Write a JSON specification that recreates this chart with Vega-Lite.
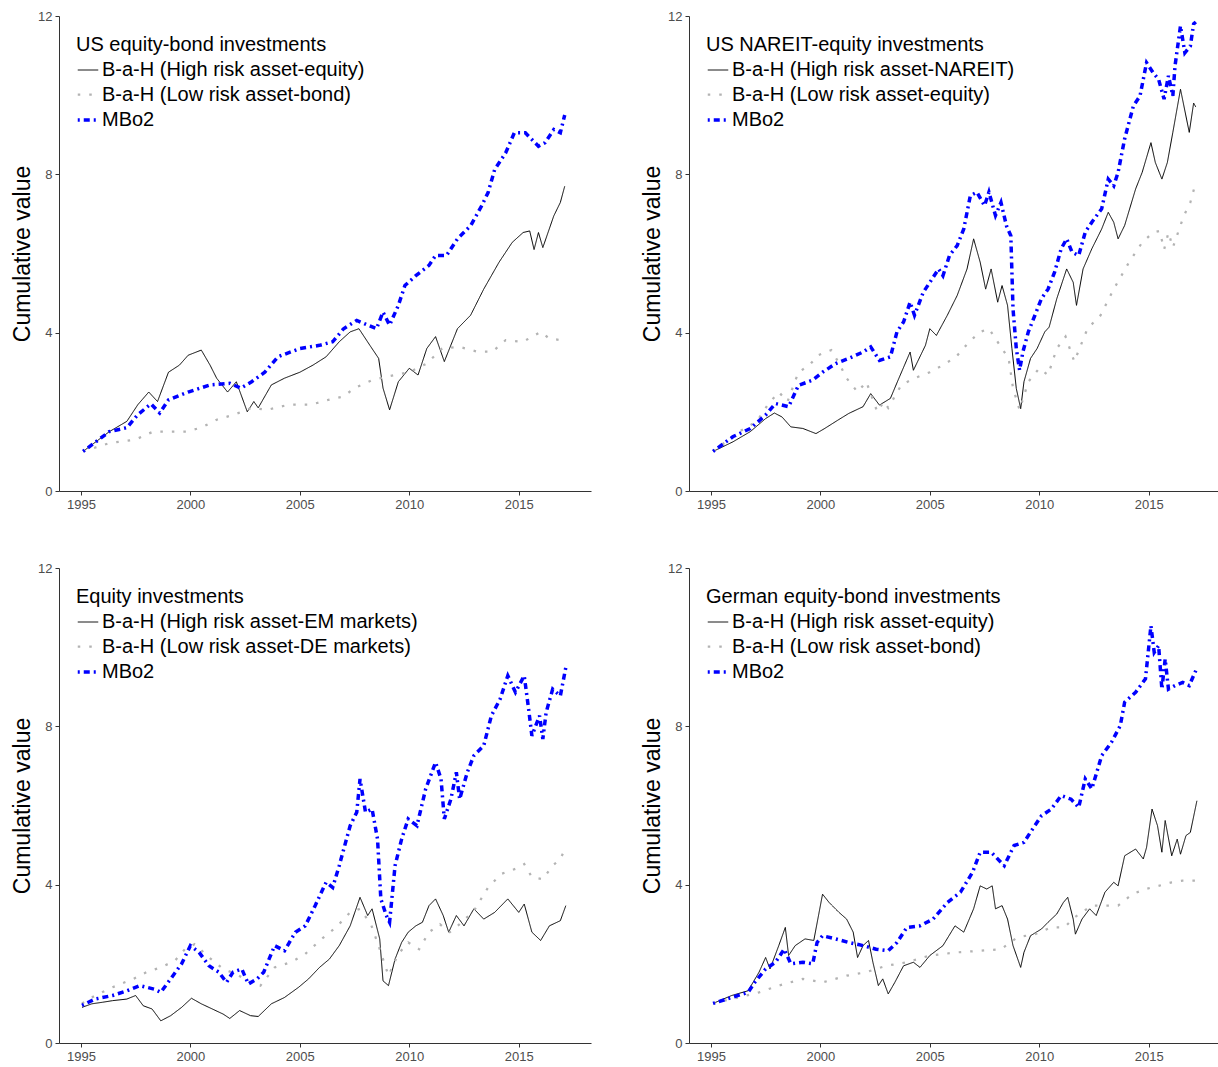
{
"$schema":"https://vega.github.io/schema/vega-lite/v6.json",
"padding":{"left":11,"top":10,"right":0,"bottom":0},
"background":"white",
"config":{
 "view":{"stroke":null},
 "font":"Liberation Sans",
 "axis":{"labelFont":"Liberation Sans","labelFontSize":13,"labelColor":"#4d4d4d","tickColor":"#333333","domainColor":"#333333","tickSize":4,"grid":false,"titleFont":"Liberation Sans","titleFontSize":23,"titleFontWeight":"normal","titleColor":"black","labelPadding":3},
 "axisY":{"titlePadding":3},
 "legend":{"orient":"none","legendX":17,"legendY":19,"titleFont":"Liberation Sans","titleFontSize":20,"titleFontWeight":"normal","titleColor":"black","labelFont":"Liberation Sans","labelFontSize":20,"labelColor":"black","symbolType":"stroke","symbolSize":420,"labelOffset":2,"rowPadding":3,"titlePadding":4,"labelLimit":500,"titleLimit":500}
},
"datasets":{
"p1":[
{"s":"h","t":1995.1,"v":1.0},{"s":"h","t":1996.3,"v":1.5},{"s":"h","t":1997.1,"v":1.76},{"s":"h","t":1997.6,"v":2.18},{"s":"h","t":1998.1,"v":2.5},{"s":"h","t":1998.5,"v":2.26},{"s":"h","t":1999.0,"v":3.0},{"s":"h","t":1999.5,"v":3.18},{"s":"h","t":1999.9,"v":3.43},{"s":"h","t":2000.5,"v":3.56},{"s":"h","t":2000.9,"v":3.18},{"s":"h","t":2001.2,"v":2.85},{"s":"h","t":2001.7,"v":2.5},{"s":"h","t":2002.1,"v":2.76},{"s":"h","t":2002.6,"v":2.0},{"s":"h","t":2002.9,"v":2.26},{"s":"h","t":2003.1,"v":2.1},{"s":"h","t":2003.7,"v":2.68},{"s":"h","t":2004.3,"v":2.85},{"s":"h","t":2005.0,"v":3.0},{"s":"h","t":2005.6,"v":3.18},{"s":"h","t":2006.2,"v":3.39},{"s":"h","t":2006.8,"v":3.77},{"s":"h","t":2007.3,"v":4.02},{"s":"h","t":2007.7,"v":4.1},{"s":"h","t":2008.2,"v":3.68},{"s":"h","t":2008.6,"v":3.35},{"s":"h","t":2008.8,"v":2.6},{"s":"h","t":2009.1,"v":2.05},{"s":"h","t":2009.5,"v":2.76},{"s":"h","t":2010.0,"v":3.1},{"s":"h","t":2010.4,"v":2.93},{"s":"h","t":2010.8,"v":3.6},{"s":"h","t":2011.2,"v":3.9},{"s":"h","t":2011.6,"v":3.27},{"s":"h","t":2012.2,"v":4.1},{"s":"h","t":2012.8,"v":4.44},{"s":"h","t":2013.4,"v":5.1},{"s":"h","t":2014.1,"v":5.78},{"s":"h","t":2014.7,"v":6.28},{"s":"h","t":2015.2,"v":6.53},{"s":"h","t":2015.5,"v":6.57},{"s":"h","t":2015.7,"v":6.1},{"s":"h","t":2015.9,"v":6.53},{"s":"h","t":2016.1,"v":6.15},{"s":"h","t":2016.6,"v":6.95},{"s":"h","t":2016.9,"v":7.29},{"s":"h","t":2017.1,"v":7.7},
{"s":"l","t":1995.1,"v":1.0},{"s":"l","t":1996.3,"v":1.21},{"s":"l","t":1997.5,"v":1.3},{"s":"l","t":1998.3,"v":1.5},{"s":"l","t":1999.0,"v":1.5},{"s":"l","t":1999.8,"v":1.5},{"s":"l","t":2000.5,"v":1.6},{"s":"l","t":2001.2,"v":1.8},{"s":"l","t":2002.0,"v":1.93},{"s":"l","t":2002.8,"v":2.1},{"s":"l","t":2003.5,"v":2.05},{"s":"l","t":2004.5,"v":2.18},{"s":"l","t":2005.5,"v":2.18},{"s":"l","t":2006.3,"v":2.3},{"s":"l","t":2007.0,"v":2.39},{"s":"l","t":2007.5,"v":2.6},{"s":"l","t":2008.3,"v":2.8},{"s":"l","t":2009.0,"v":2.89},{"s":"l","t":2010.0,"v":3.0},{"s":"l","t":2010.8,"v":3.22},{"s":"l","t":2011.5,"v":3.6},{"s":"l","t":2012.3,"v":3.64},{"s":"l","t":2013.1,"v":3.52},{"s":"l","t":2013.8,"v":3.52},{"s":"l","t":2014.4,"v":3.81},{"s":"l","t":2015.2,"v":3.77},{"s":"l","t":2016.0,"v":4.02},{"s":"l","t":2016.4,"v":3.85},{"s":"l","t":2017.1,"v":3.8},
{"s":"m","t":1995.1,"v":1.0},{"s":"m","t":1996.3,"v":1.5},{"s":"m","t":1997.1,"v":1.6},{"s":"m","t":1997.6,"v":1.93},{"s":"m","t":1998.2,"v":2.2},{"s":"m","t":1998.6,"v":1.97},{"s":"m","t":1999.0,"v":2.3},{"s":"m","t":1999.9,"v":2.5},{"s":"m","t":2000.9,"v":2.68},{"s":"m","t":2001.8,"v":2.72},{"s":"m","t":2002.3,"v":2.6},{"s":"m","t":2002.8,"v":2.76},{"s":"m","t":2003.4,"v":3.0},{"s":"m","t":2004.0,"v":3.39},{"s":"m","t":2005.0,"v":3.6},{"s":"m","t":2005.9,"v":3.68},{"s":"m","t":2006.5,"v":3.77},{"s":"m","t":2007.0,"v":4.1},{"s":"m","t":2007.6,"v":4.31},{"s":"m","t":2008.1,"v":4.19},{"s":"m","t":2008.5,"v":4.1},{"s":"m","t":2008.8,"v":4.52},{"s":"m","t":2009.1,"v":4.19},{"s":"m","t":2009.5,"v":4.69},{"s":"m","t":2009.8,"v":5.19},{"s":"m","t":2010.3,"v":5.44},{"s":"m","t":2010.9,"v":5.7},{"s":"m","t":2011.2,"v":5.95},{"s":"m","t":2011.7,"v":5.95},{"s":"m","t":2012.2,"v":6.37},{"s":"m","t":2012.8,"v":6.7},{"s":"m","t":2013.3,"v":7.2},{"s":"m","t":2013.6,"v":7.54},{"s":"m","t":2013.9,"v":8.12},{"s":"m","t":2014.4,"v":8.54},{"s":"m","t":2014.8,"v":9.05},{"s":"m","t":2015.3,"v":9.05},{"s":"m","t":2015.9,"v":8.71},{"s":"m","t":2016.2,"v":8.8},{"s":"m","t":2016.6,"v":9.13},{"s":"m","t":2016.9,"v":9.05},{"s":"m","t":2017.1,"v":9.5}
],
"p2":[
{"s":"h","t":1995.1,"v":1.0},{"s":"h","t":1996.0,"v":1.24},{"s":"h","t":1996.8,"v":1.5},{"s":"h","t":1997.5,"v":1.83},{"s":"h","t":1997.9,"v":1.97},{"s":"h","t":1998.25,"v":1.87},{"s":"h","t":1998.65,"v":1.62},{"s":"h","t":1999.2,"v":1.58},{"s":"h","t":1999.8,"v":1.45},{"s":"h","t":2000.2,"v":1.58},{"s":"h","t":2000.8,"v":1.79},{"s":"h","t":2001.3,"v":1.96},{"s":"h","t":2001.95,"v":2.13},{"s":"h","t":2002.3,"v":2.46},{"s":"h","t":2002.7,"v":2.17},{"s":"h","t":2003.2,"v":2.34},{"s":"h","t":2003.55,"v":2.8},{"s":"h","t":2004.1,"v":3.51},{"s":"h","t":2004.25,"v":3.05},{"s":"h","t":2004.8,"v":3.68},{"s":"h","t":2005.0,"v":4.1},{"s":"h","t":2005.3,"v":3.93},{"s":"h","t":2005.8,"v":4.44},{"s":"h","t":2006.25,"v":4.94},{"s":"h","t":2006.7,"v":5.61},{"s":"h","t":2007.0,"v":6.37},{"s":"h","t":2007.3,"v":5.78},{"s":"h","t":2007.55,"v":5.1},{"s":"h","t":2007.8,"v":5.61},{"s":"h","t":2008.1,"v":4.77},{"s":"h","t":2008.3,"v":5.19},{"s":"h","t":2008.55,"v":4.69},{"s":"h","t":2008.75,"v":3.6},{"s":"h","t":2008.95,"v":2.59},{"s":"h","t":2009.15,"v":2.08},{"s":"h","t":2009.3,"v":2.76},{"s":"h","t":2009.6,"v":3.35},{"s":"h","t":2009.9,"v":3.6},{"s":"h","t":2010.25,"v":4.02},{"s":"h","t":2010.45,"v":4.14},{"s":"h","t":2010.8,"v":4.86},{"s":"h","t":2011.25,"v":5.61},{"s":"h","t":2011.55,"v":5.27},{"s":"h","t":2011.7,"v":4.69},{"s":"h","t":2012.0,"v":5.61},{"s":"h","t":2012.4,"v":6.12},{"s":"h","t":2012.85,"v":6.62},{"s":"h","t":2013.15,"v":7.04},{"s":"h","t":2013.4,"v":6.79},{"s":"h","t":2013.6,"v":6.37},{"s":"h","t":2013.9,"v":6.71},{"s":"h","t":2014.4,"v":7.63},{"s":"h","t":2014.7,"v":8.05},{"s":"h","t":2015.1,"v":8.8},{"s":"h","t":2015.3,"v":8.3},{"s":"h","t":2015.6,"v":7.88},{"s":"h","t":2015.85,"v":8.3},{"s":"h","t":2016.1,"v":9.06},{"s":"h","t":2016.45,"v":10.15},{"s":"h","t":2016.85,"v":9.06},{"s":"h","t":2017.05,"v":9.8},{"s":"h","t":2017.15,"v":9.7},
{"s":"l","t":1995.1,"v":1.0},{"s":"l","t":1996.3,"v":1.5},{"s":"l","t":1997.1,"v":1.76},{"s":"l","t":1997.6,"v":2.18},{"s":"l","t":1998.1,"v":2.5},{"s":"l","t":1998.5,"v":2.26},{"s":"l","t":1999.0,"v":3.0},{"s":"l","t":1999.5,"v":3.18},{"s":"l","t":1999.9,"v":3.43},{"s":"l","t":2000.5,"v":3.56},{"s":"l","t":2000.9,"v":3.18},{"s":"l","t":2001.2,"v":2.85},{"s":"l","t":2001.7,"v":2.5},{"s":"l","t":2002.1,"v":2.76},{"s":"l","t":2002.6,"v":2.0},{"s":"l","t":2002.9,"v":2.26},{"s":"l","t":2003.1,"v":2.1},{"s":"l","t":2003.7,"v":2.68},{"s":"l","t":2004.3,"v":2.85},{"s":"l","t":2005.0,"v":3.0},{"s":"l","t":2005.6,"v":3.18},{"s":"l","t":2006.2,"v":3.39},{"s":"l","t":2006.8,"v":3.77},{"s":"l","t":2007.3,"v":4.02},{"s":"l","t":2007.7,"v":4.1},{"s":"l","t":2008.2,"v":3.68},{"s":"l","t":2008.6,"v":3.35},{"s":"l","t":2008.8,"v":2.6},{"s":"l","t":2009.1,"v":2.05},{"s":"l","t":2009.5,"v":2.76},{"s":"l","t":2010.0,"v":3.1},{"s":"l","t":2010.4,"v":2.93},{"s":"l","t":2010.8,"v":3.6},{"s":"l","t":2011.2,"v":3.9},{"s":"l","t":2011.6,"v":3.27},{"s":"l","t":2012.2,"v":4.1},{"s":"l","t":2012.8,"v":4.44},{"s":"l","t":2013.4,"v":5.1},{"s":"l","t":2014.1,"v":5.78},{"s":"l","t":2014.7,"v":6.28},{"s":"l","t":2015.2,"v":6.53},{"s":"l","t":2015.5,"v":6.57},{"s":"l","t":2015.7,"v":6.1},{"s":"l","t":2015.9,"v":6.53},{"s":"l","t":2016.1,"v":6.15},{"s":"l","t":2016.6,"v":6.95},{"s":"l","t":2016.9,"v":7.29},{"s":"l","t":2017.1,"v":7.7},
{"s":"m","t":1995.1,"v":1.0},{"s":"m","t":1996.0,"v":1.37},{"s":"m","t":1996.8,"v":1.58},{"s":"m","t":1997.5,"v":1.92},{"s":"m","t":1997.95,"v":2.21},{"s":"m","t":1998.55,"v":2.13},{"s":"m","t":1999.0,"v":2.67},{"s":"m","t":1999.65,"v":2.8},{"s":"m","t":2000.1,"v":3.0},{"s":"m","t":2000.7,"v":3.22},{"s":"m","t":2001.3,"v":3.35},{"s":"m","t":2001.95,"v":3.51},{"s":"m","t":2002.3,"v":3.64},{"s":"m","t":2002.7,"v":3.3},{"s":"m","t":2003.2,"v":3.39},{"s":"m","t":2003.5,"v":4.02},{"s":"m","t":2003.8,"v":4.27},{"s":"m","t":2004.1,"v":4.77},{"s":"m","t":2004.3,"v":4.44},{"s":"m","t":2004.7,"v":5.02},{"s":"m","t":2005.0,"v":5.27},{"s":"m","t":2005.4,"v":5.61},{"s":"m","t":2005.6,"v":5.44},{"s":"m","t":2005.9,"v":5.95},{"s":"m","t":2006.25,"v":6.2},{"s":"m","t":2006.55,"v":6.62},{"s":"m","t":2006.85,"v":7.46},{"s":"m","t":2007.15,"v":7.55},{"s":"m","t":2007.5,"v":7.21},{"s":"m","t":2007.7,"v":7.55},{"s":"m","t":2008.0,"v":6.96},{"s":"m","t":2008.25,"v":7.29},{"s":"m","t":2008.5,"v":6.7},{"s":"m","t":2008.7,"v":6.45},{"s":"m","t":2008.8,"v":4.6},{"s":"m","t":2008.95,"v":3.6},{"s":"m","t":2009.1,"v":3.05},{"s":"m","t":2009.25,"v":3.51},{"s":"m","t":2009.5,"v":4.02},{"s":"m","t":2009.8,"v":4.44},{"s":"m","t":2010.1,"v":4.86},{"s":"m","t":2010.4,"v":5.1},{"s":"m","t":2010.7,"v":5.53},{"s":"m","t":2011.0,"v":6.12},{"s":"m","t":2011.25,"v":6.37},{"s":"m","t":2011.5,"v":6.03},{"s":"m","t":2011.8,"v":5.95},{"s":"m","t":2012.1,"v":6.54},{"s":"m","t":2012.4,"v":6.79},{"s":"m","t":2012.85,"v":7.13},{"s":"m","t":2013.15,"v":7.88},{"s":"m","t":2013.4,"v":7.71},{"s":"m","t":2013.6,"v":8.05},{"s":"m","t":2013.9,"v":8.9},{"s":"m","t":2014.3,"v":9.73},{"s":"m","t":2014.6,"v":9.98},{"s":"m","t":2014.9,"v":10.82},{"s":"m","t":2015.2,"v":10.57},{"s":"m","t":2015.45,"v":10.4},{"s":"m","t":2015.7,"v":9.9},{"s":"m","t":2015.9,"v":10.49},{"s":"m","t":2016.1,"v":9.98},{"s":"m","t":2016.2,"v":10.74},{"s":"m","t":2016.45,"v":11.75},{"s":"m","t":2016.65,"v":11.07},{"s":"m","t":2016.9,"v":11.24},{"s":"m","t":2017.05,"v":11.8},{"s":"m","t":2017.15,"v":11.85}
],
"p3":[
{"s":"h","t":1995.05,"v":0.9},{"s":"h","t":1995.5,"v":0.99},{"s":"h","t":1996.0,"v":1.03},{"s":"h","t":1996.45,"v":1.07},{"s":"h","t":1997.1,"v":1.11},{"s":"h","t":1997.5,"v":1.2},{"s":"h","t":1997.85,"v":0.94},{"s":"h","t":1998.25,"v":0.86},{"s":"h","t":1998.65,"v":0.56},{"s":"h","t":1999.1,"v":0.69},{"s":"h","t":1999.6,"v":0.9},{"s":"h","t":2000.05,"v":1.13},{"s":"h","t":2000.5,"v":0.99},{"s":"h","t":2001.0,"v":0.86},{"s":"h","t":2001.5,"v":0.73},{"s":"h","t":2001.8,"v":0.62},{"s":"h","t":2002.25,"v":0.82},{"s":"h","t":2002.75,"v":0.69},{"s":"h","t":2003.1,"v":0.67},{"s":"h","t":2003.7,"v":0.99},{"s":"h","t":2004.3,"v":1.15},{"s":"h","t":2004.95,"v":1.41},{"s":"h","t":2005.4,"v":1.62},{"s":"h","t":2005.9,"v":1.91},{"s":"h","t":2006.35,"v":2.12},{"s":"h","t":2006.8,"v":2.46},{"s":"h","t":2007.3,"v":2.96},{"s":"h","t":2007.75,"v":3.68},{"s":"h","t":2008.1,"v":3.22},{"s":"h","t":2008.3,"v":3.39},{"s":"h","t":2008.65,"v":2.63},{"s":"h","t":2008.8,"v":1.57},{"s":"h","t":2009.05,"v":1.45},{"s":"h","t":2009.35,"v":2.12},{"s":"h","t":2009.65,"v":2.54},{"s":"h","t":2009.95,"v":2.8},{"s":"h","t":2010.3,"v":2.96},{"s":"h","t":2010.6,"v":3.05},{"s":"h","t":2010.9,"v":3.47},{"s":"h","t":2011.2,"v":3.64},{"s":"h","t":2011.55,"v":3.22},{"s":"h","t":2011.8,"v":2.8},{"s":"h","t":2012.15,"v":3.22},{"s":"h","t":2012.5,"v":2.96},{"s":"h","t":2012.95,"v":3.39},{"s":"h","t":2013.4,"v":3.13},{"s":"h","t":2013.9,"v":3.3},{"s":"h","t":2014.5,"v":3.64},{"s":"h","t":2015.0,"v":3.3},{"s":"h","t":2015.25,"v":3.51},{"s":"h","t":2015.6,"v":2.8},{"s":"h","t":2016.0,"v":2.59},{"s":"h","t":2016.4,"v":2.96},{"s":"h","t":2016.9,"v":3.09},{"s":"h","t":2017.15,"v":3.47},
{"s":"l","t":1995.05,"v":1.0},{"s":"l","t":1995.65,"v":1.2},{"s":"l","t":1996.45,"v":1.41},{"s":"l","t":1997.4,"v":1.62},{"s":"l","t":1998.0,"v":1.79},{"s":"l","t":1998.65,"v":1.91},{"s":"l","t":1999.3,"v":2.08},{"s":"l","t":1999.75,"v":2.37},{"s":"l","t":2000.2,"v":2.5},{"s":"l","t":2000.85,"v":2.16},{"s":"l","t":2001.5,"v":1.87},{"s":"l","t":2002.1,"v":1.74},{"s":"l","t":2002.75,"v":1.53},{"s":"l","t":2003.2,"v":1.45},{"s":"l","t":2003.85,"v":1.91},{"s":"l","t":2004.6,"v":2.04},{"s":"l","t":2005.25,"v":2.25},{"s":"l","t":2006.0,"v":2.63},{"s":"l","t":2006.65,"v":2.92},{"s":"l","t":2007.3,"v":3.3},{"s":"l","t":2007.75,"v":3.39},{"s":"l","t":2008.25,"v":3.0},{"s":"l","t":2008.65,"v":2.37},{"s":"l","t":2009.05,"v":1.7},{"s":"l","t":2009.5,"v":2.25},{"s":"l","t":2009.95,"v":2.54},{"s":"l","t":2010.45,"v":2.37},{"s":"l","t":2010.9,"v":2.8},{"s":"l","t":2011.4,"v":3.0},{"s":"l","t":2011.85,"v":2.8},{"s":"l","t":2012.3,"v":3.0},{"s":"l","t":2012.95,"v":3.34},{"s":"l","t":2013.6,"v":3.93},{"s":"l","t":2014.2,"v":4.27},{"s":"l","t":2014.85,"v":4.4},{"s":"l","t":2015.25,"v":4.52},{"s":"l","t":2015.6,"v":4.19},{"s":"l","t":2016.1,"v":4.14},{"s":"l","t":2016.55,"v":4.48},{"s":"l","t":2016.9,"v":4.65},{"s":"l","t":2017.15,"v":4.94},
{"s":"m","t":1995.05,"v":0.95},{"s":"m","t":1995.65,"v":1.11},{"s":"m","t":1996.45,"v":1.2},{"s":"m","t":1997.1,"v":1.32},{"s":"m","t":1997.7,"v":1.45},{"s":"m","t":1998.35,"v":1.36},{"s":"m","t":1998.65,"v":1.28},{"s":"m","t":1999.1,"v":1.62},{"s":"m","t":1999.6,"v":2.0},{"s":"m","t":2000.0,"v":2.46},{"s":"m","t":2000.4,"v":2.29},{"s":"m","t":2000.85,"v":1.95},{"s":"m","t":2001.3,"v":1.79},{"s":"m","t":2001.65,"v":1.53},{"s":"m","t":2001.95,"v":1.79},{"s":"m","t":2002.35,"v":1.87},{"s":"m","t":2002.65,"v":1.49},{"s":"m","t":2003.05,"v":1.62},{"s":"m","t":2003.35,"v":1.79},{"s":"m","t":2003.85,"v":2.46},{"s":"m","t":2004.3,"v":2.33},{"s":"m","t":2004.8,"v":2.8},{"s":"m","t":2005.25,"v":2.96},{"s":"m","t":2005.7,"v":3.47},{"s":"m","t":2006.2,"v":4.06},{"s":"m","t":2006.5,"v":3.93},{"s":"m","t":2006.8,"v":4.48},{"s":"m","t":2007.3,"v":5.49},{"s":"m","t":2007.6,"v":5.83},{"s":"m","t":2007.75,"v":6.67},{"s":"m","t":2008.0,"v":5.83},{"s":"m","t":2008.3,"v":5.91},{"s":"m","t":2008.55,"v":5.15},{"s":"m","t":2008.7,"v":3.64},{"s":"m","t":2008.95,"v":3.22},{"s":"m","t":2009.1,"v":3.05},{"s":"m","t":2009.35,"v":4.48},{"s":"m","t":2009.65,"v":5.15},{"s":"m","t":2009.95,"v":5.66},{"s":"m","t":2010.35,"v":5.49},{"s":"m","t":2010.75,"v":6.42},{"s":"m","t":2011.2,"v":7.09},{"s":"m","t":2011.45,"v":6.67},{"s":"m","t":2011.6,"v":5.66},{"s":"m","t":2011.9,"v":6.16},{"s":"m","t":2012.15,"v":6.84},{"s":"m","t":2012.3,"v":6.16},{"s":"m","t":2012.65,"v":6.84},{"s":"m","t":2012.95,"v":7.26},{"s":"m","t":2013.4,"v":7.51},{"s":"m","t":2013.75,"v":8.27},{"s":"m","t":2014.15,"v":8.69},{"s":"m","t":2014.5,"v":9.28},{"s":"m","t":2014.85,"v":8.86},{"s":"m","t":2015.25,"v":9.28},{"s":"m","t":2015.45,"v":8.44},{"s":"m","t":2015.6,"v":7.76},{"s":"m","t":2015.95,"v":8.27},{"s":"m","t":2016.1,"v":7.68},{"s":"m","t":2016.25,"v":8.35},{"s":"m","t":2016.55,"v":8.94},{"s":"m","t":2016.9,"v":8.77},{"s":"m","t":2017.15,"v":9.49}
],
"p4":[
{"s":"h","t":1995.1,"v":1.0},{"s":"h","t":1995.95,"v":1.2},{"s":"h","t":1996.7,"v":1.32},{"s":"h","t":1997.2,"v":1.79},{"s":"h","t":1997.5,"v":2.16},{"s":"h","t":1997.7,"v":1.87},{"s":"h","t":1998.1,"v":2.46},{"s":"h","t":1998.4,"v":2.92},{"s":"h","t":1998.55,"v":2.21},{"s":"h","t":1998.85,"v":2.46},{"s":"h","t":1999.3,"v":2.63},{"s":"h","t":1999.7,"v":2.59},{"s":"h","t":2000.1,"v":3.76},{"s":"h","t":2000.4,"v":3.55},{"s":"h","t":2000.85,"v":3.3},{"s":"h","t":2001.2,"v":3.13},{"s":"h","t":2001.5,"v":2.8},{"s":"h","t":2001.7,"v":2.16},{"s":"h","t":2001.95,"v":2.46},{"s":"h","t":2002.2,"v":2.59},{"s":"h","t":2002.4,"v":2.04},{"s":"h","t":2002.65,"v":1.45},{"s":"h","t":2002.85,"v":1.62},{"s":"h","t":2003.1,"v":1.24},{"s":"h","t":2003.4,"v":1.53},{"s":"h","t":2003.8,"v":1.95},{"s":"h","t":2004.25,"v":2.04},{"s":"h","t":2004.55,"v":1.91},{"s":"h","t":2005.0,"v":2.21},{"s":"h","t":2005.6,"v":2.46},{"s":"h","t":2006.15,"v":2.96},{"s":"h","t":2006.55,"v":2.8},{"s":"h","t":2007.0,"v":3.39},{"s":"h","t":2007.3,"v":3.97},{"s":"h","t":2007.6,"v":3.89},{"s":"h","t":2007.85,"v":3.97},{"s":"h","t":2008.0,"v":3.39},{"s":"h","t":2008.3,"v":3.47},{"s":"h","t":2008.55,"v":3.13},{"s":"h","t":2008.8,"v":2.46},{"s":"h","t":2009.15,"v":1.91},{"s":"h","t":2009.3,"v":2.29},{"s":"h","t":2009.6,"v":2.71},{"s":"h","t":2010.1,"v":2.88},{"s":"h","t":2010.4,"v":3.05},{"s":"h","t":2010.8,"v":3.26},{"s":"h","t":2011.1,"v":3.55},{"s":"h","t":2011.3,"v":3.68},{"s":"h","t":2011.55,"v":3.13},{"s":"h","t":2011.65,"v":2.75},{"s":"h","t":2011.95,"v":3.13},{"s":"h","t":2012.3,"v":3.39},{"s":"h","t":2012.6,"v":3.22},{"s":"h","t":2013.0,"v":3.81},{"s":"h","t":2013.4,"v":4.06},{"s":"h","t":2013.6,"v":3.97},{"s":"h","t":2013.9,"v":4.73},{"s":"h","t":2014.4,"v":4.9},{"s":"h","t":2014.75,"v":4.65},{"s":"h","t":2014.9,"v":4.94},{"s":"h","t":2015.15,"v":5.91},{"s":"h","t":2015.4,"v":5.49},{"s":"h","t":2015.6,"v":4.82},{"s":"h","t":2015.75,"v":5.62},{"s":"h","t":2016.05,"v":4.73},{"s":"h","t":2016.3,"v":5.15},{"s":"h","t":2016.45,"v":4.77},{"s":"h","t":2016.7,"v":5.24},{"s":"h","t":2016.9,"v":5.32},{"s":"h","t":2017.2,"v":6.12},
{"s":"l","t":1995.1,"v":1.0},{"s":"l","t":1996.25,"v":1.15},{"s":"l","t":1997.2,"v":1.28},{"s":"l","t":1998.1,"v":1.45},{"s":"l","t":1999.2,"v":1.62},{"s":"l","t":2000.1,"v":1.53},{"s":"l","t":2001.2,"v":1.7},{"s":"l","t":2002.1,"v":1.79},{"s":"l","t":2003.0,"v":1.95},{"s":"l","t":2003.95,"v":2.04},{"s":"l","t":2005.0,"v":2.21},{"s":"l","t":2006.25,"v":2.29},{"s":"l","t":2007.3,"v":2.33},{"s":"l","t":2008.25,"v":2.37},{"s":"l","t":2009.0,"v":2.67},{"s":"l","t":2009.8,"v":2.75},{"s":"l","t":2010.55,"v":2.92},{"s":"l","t":2011.15,"v":2.92},{"s":"l","t":2011.6,"v":3.17},{"s":"l","t":2012.4,"v":3.47},{"s":"l","t":2013.0,"v":3.47},{"s":"l","t":2013.6,"v":3.47},{"s":"l","t":2014.25,"v":3.76},{"s":"l","t":2014.85,"v":3.89},{"s":"l","t":2015.45,"v":3.97},{"s":"l","t":2016.05,"v":4.06},{"s":"l","t":2016.55,"v":4.1},{"s":"l","t":2017.15,"v":4.1},
{"s":"m","t":1995.1,"v":1.0},{"s":"m","t":1995.95,"v":1.15},{"s":"m","t":1996.7,"v":1.28},{"s":"m","t":1997.0,"v":1.53},{"s":"m","t":1997.5,"v":1.87},{"s":"m","t":1997.95,"v":2.04},{"s":"m","t":1998.35,"v":2.37},{"s":"m","t":1998.65,"v":2.0},{"s":"m","t":1999.2,"v":2.04},{"s":"m","t":1999.65,"v":2.0},{"s":"m","t":1999.85,"v":2.54},{"s":"m","t":2000.1,"v":2.71},{"s":"m","t":2000.7,"v":2.63},{"s":"m","t":2001.3,"v":2.54},{"s":"m","t":2001.95,"v":2.46},{"s":"m","t":2002.55,"v":2.37},{"s":"m","t":2003.1,"v":2.33},{"s":"m","t":2003.5,"v":2.54},{"s":"m","t":2003.95,"v":2.92},{"s":"m","t":2004.55,"v":2.96},{"s":"m","t":2005.15,"v":3.13},{"s":"m","t":2005.8,"v":3.55},{"s":"m","t":2006.4,"v":3.81},{"s":"m","t":2006.95,"v":4.31},{"s":"m","t":2007.3,"v":4.82},{"s":"m","t":2007.8,"v":4.82},{"s":"m","t":2008.4,"v":4.48},{"s":"m","t":2008.85,"v":4.99},{"s":"m","t":2009.3,"v":5.07},{"s":"m","t":2009.7,"v":5.41},{"s":"m","t":2010.1,"v":5.74},{"s":"m","t":2010.55,"v":5.91},{"s":"m","t":2011.0,"v":6.25},{"s":"m","t":2011.45,"v":6.16},{"s":"m","t":2011.8,"v":5.95},{"s":"m","t":2012.1,"v":6.67},{"s":"m","t":2012.4,"v":6.42},{"s":"m","t":2012.85,"v":7.26},{"s":"m","t":2013.3,"v":7.6},{"s":"m","t":2013.7,"v":8.02},{"s":"m","t":2013.9,"v":8.61},{"s":"m","t":2014.4,"v":8.86},{"s":"m","t":2014.85,"v":9.2},{"s":"m","t":2015.1,"v":10.54},{"s":"m","t":2015.25,"v":9.87},{"s":"m","t":2015.45,"v":10.04},{"s":"m","t":2015.6,"v":8.94},{"s":"m","t":2015.75,"v":9.7},{"s":"m","t":2015.9,"v":8.94},{"s":"m","t":2016.2,"v":9.03},{"s":"m","t":2016.55,"v":9.11},{"s":"m","t":2016.85,"v":9.03},{"s":"m","t":2017.15,"v":9.41}
]
},
"spacing":51,
"resolve":{"scale":{"color":"independent","strokeDash":"independent","strokeWidth":"independent"},"legend":{"color":"independent","strokeDash":"independent","strokeWidth":"independent"}},
"vconcat":[
{"spacing":50,
 "resolve":{"scale":{"color":"independent","strokeDash":"independent","strokeWidth":"independent"},"legend":{"color":"independent","strokeDash":"independent","strokeWidth":"independent"}},
 "hconcat":[
 {"data":{"name":"p1"},"width":532,"height":475,"mark":{"type":"line","clip":true},
  "encoding":{
   "x":{"field":"t","type":"quantitative","scale":{"domain":[1994,2018.3],"nice":false,"zero":false},"axis":{"values":[1995,2000,2005,2010,2015],"format":"d","title":null}},
   "y":{"field":"v","type":"quantitative","scale":{"domain":[0,12],"nice":false},"axis":{"values":[0,4,8,12],"title":"Cumulative value"}},
   "color":{"field":"s","type":"nominal","scale":{"domain":["h","l","m"],"range":["#000000","#b3b3b3","#0000ff"]},"legend":{"title":"US equity-bond investments","labelExpr":"datum.label=='h'?'B-a-H (High risk asset-equity)':datum.label=='l'?'B-a-H (Low risk asset-bond)':'MBo2'"}},
   "strokeDash":{"field":"s","type":"nominal","scale":{"domain":["h","l","m"],"range":[[1,0],[2.5,9],[2,4,6,4]]},"legend":{"title":"US equity-bond investments","labelExpr":"datum.label=='h'?'B-a-H (High risk asset-equity)':datum.label=='l'?'B-a-H (Low risk asset-bond)':'MBo2'"}},
   "strokeWidth":{"field":"s","type":"ordinal","scale":{"domain":["h","l","m"],"range":[1,3.5,2.2]},"legend":{"title":"US equity-bond investments","labelExpr":"datum.label=='h'?'B-a-H (High risk asset-equity)':datum.label=='l'?'B-a-H (Low risk asset-bond)':'MBo2'"}}
  }},
 {"data":{"name":"p2"},"width":532,"height":475,"mark":{"type":"line","clip":true},
  "encoding":{
   "x":{"field":"t","type":"quantitative","scale":{"domain":[1994,2018.3],"nice":false,"zero":false},"axis":{"values":[1995,2000,2005,2010,2015],"format":"d","title":null}},
   "y":{"field":"v","type":"quantitative","scale":{"domain":[0,12],"nice":false},"axis":{"values":[0,4,8,12],"title":"Cumulative value"}},
   "color":{"field":"s","type":"nominal","scale":{"domain":["h","l","m"],"range":["#000000","#b3b3b3","#0000ff"]},"legend":{"title":"US NAREIT-equity investments","labelExpr":"datum.label=='h'?'B-a-H (High risk asset-NAREIT)':datum.label=='l'?'B-a-H (Low risk asset-equity)':'MBo2'"}},
   "strokeDash":{"field":"s","type":"nominal","scale":{"domain":["h","l","m"],"range":[[1,0],[2.5,9],[2,4,6,4]]},"legend":{"title":"US NAREIT-equity investments","labelExpr":"datum.label=='h'?'B-a-H (High risk asset-NAREIT)':datum.label=='l'?'B-a-H (Low risk asset-equity)':'MBo2'"}},
   "strokeWidth":{"field":"s","type":"ordinal","scale":{"domain":["h","l","m"],"range":[1,3.5,2.2]},"legend":{"title":"US NAREIT-equity investments","labelExpr":"datum.label=='h'?'B-a-H (High risk asset-NAREIT)':datum.label=='l'?'B-a-H (Low risk asset-equity)':'MBo2'"}}
  }}
 ]},
{"spacing":50,
 "resolve":{"scale":{"color":"independent","strokeDash":"independent","strokeWidth":"independent"},"legend":{"color":"independent","strokeDash":"independent","strokeWidth":"independent"}},
 "hconcat":[
 {"data":{"name":"p3"},"width":532,"height":475,"mark":{"type":"line","clip":true},
  "encoding":{
   "x":{"field":"t","type":"quantitative","scale":{"domain":[1994,2018.3],"nice":false,"zero":false},"axis":{"values":[1995,2000,2005,2010,2015],"format":"d","title":null}},
   "y":{"field":"v","type":"quantitative","scale":{"domain":[0,12],"nice":false},"axis":{"values":[0,4,8,12],"title":"Cumulative value"}},
   "color":{"field":"s","type":"nominal","scale":{"domain":["h","l","m"],"range":["#000000","#b3b3b3","#0000ff"]},"legend":{"title":"Equity investments","labelExpr":"datum.label=='h'?'B-a-H (High risk asset-EM markets)':datum.label=='l'?'B-a-H (Low risk asset-DE markets)':'MBo2'"}},
   "strokeDash":{"field":"s","type":"nominal","scale":{"domain":["h","l","m"],"range":[[1,0],[2.5,9],[2,4,6,4]]},"legend":{"title":"Equity investments","labelExpr":"datum.label=='h'?'B-a-H (High risk asset-EM markets)':datum.label=='l'?'B-a-H (Low risk asset-DE markets)':'MBo2'"}},
   "strokeWidth":{"field":"s","type":"ordinal","scale":{"domain":["h","l","m"],"range":[1,3.5,2.2]},"legend":{"title":"Equity investments","labelExpr":"datum.label=='h'?'B-a-H (High risk asset-EM markets)':datum.label=='l'?'B-a-H (Low risk asset-DE markets)':'MBo2'"}}
  }},
 {"data":{"name":"p4"},"width":532,"height":475,"mark":{"type":"line","clip":true},
  "encoding":{
   "x":{"field":"t","type":"quantitative","scale":{"domain":[1994,2018.3],"nice":false,"zero":false},"axis":{"values":[1995,2000,2005,2010,2015],"format":"d","title":null}},
   "y":{"field":"v","type":"quantitative","scale":{"domain":[0,12],"nice":false},"axis":{"values":[0,4,8,12],"title":"Cumulative value"}},
   "color":{"field":"s","type":"nominal","scale":{"domain":["h","l","m"],"range":["#000000","#b3b3b3","#0000ff"]},"legend":{"title":"German equity-bond investments","labelExpr":"datum.label=='h'?'B-a-H (High risk asset-equity)':datum.label=='l'?'B-a-H (Low risk asset-bond)':'MBo2'"}},
   "strokeDash":{"field":"s","type":"nominal","scale":{"domain":["h","l","m"],"range":[[1,0],[2.5,9],[2,4,6,4]]},"legend":{"title":"German equity-bond investments","labelExpr":"datum.label=='h'?'B-a-H (High risk asset-equity)':datum.label=='l'?'B-a-H (Low risk asset-bond)':'MBo2'"}},
   "strokeWidth":{"field":"s","type":"ordinal","scale":{"domain":["h","l","m"],"range":[1,3.5,2.2]},"legend":{"title":"German equity-bond investments","labelExpr":"datum.label=='h'?'B-a-H (High risk asset-equity)':datum.label=='l'?'B-a-H (Low risk asset-bond)':'MBo2'"}}
  }}
 ]}
]
}
